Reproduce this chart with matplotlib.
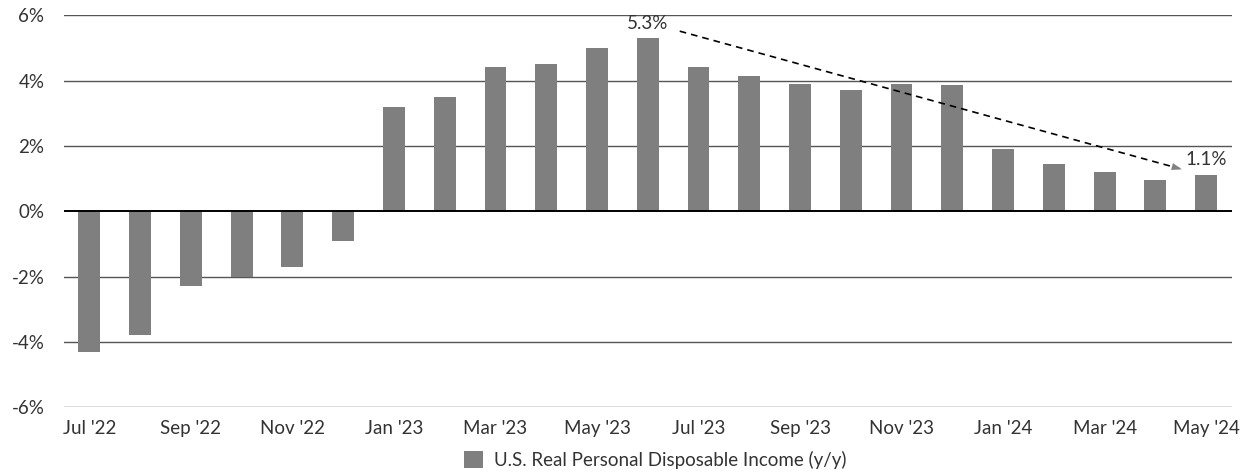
import matplotlib.pyplot as plt
import numpy as np

plt.rcParams['font.family'] = ['Lato', 'DejaVu Sans']

# datos
months = ["Jul '22", "Aug '22", "Sep '22", "Oct '22", "Nov '22", "Dec '22",
          "Jan '23", "Feb '23", "Mar '23", "Apr '23", "May '23", "Jun '23",
          "Jul '23", "Aug '23", "Sep '23", "Oct '23", "Nov '23", "Dec '23",
          "Jan '24", "Feb '24", "Mar '24", "Apr '24", "May '24"]
income = [-4.3, -3.8, -2.3, -2.0, -1.7, -0.9,
          3.2, 3.5, 4.4, 4.5, 5.0, 5.3,
          4.4, 4.15, 3.9, 3.7, 3.9, 3.85,
          1.9, 1.45, 1.2, 0.95, 1.1]
yticks = [-6, -4, -2, 0, 2, 4, 6]
serie = "U.S. Real Personal Disposable Income (y/y)"

x = np.arange(len(months))
pico = int(np.argmax(income))
ultimo = len(income) - 1

fig = plt.figure(figsize=(12.44, 4.74), dpi=100)
ax = fig.add_axes([0.0514, 0.141, 0.9386, 0.827])

for t in yticks:
    if t == 0:
        ax.axhline(t, color='black', lw=1.4, zorder=3)
    else:
        ax.axhline(t, color='#555555', lw=1.0, zorder=0)

ax.bar(x, income, width=0.43, color='#7f7f7f', label=serie, zorder=2)

ax.set_xlim(-0.5, len(months) - 0.5)
ax.set_ylim(-6, 6)
ax.set_yticks(yticks)
ax.set_yticklabels([f"{t}%" for t in yticks])
ax.set_xticks(x[::2])
ax.set_xticklabels(months[::2])
ax.tick_params(length=0, labelsize=13.5, colors='#333333')
ax.tick_params(axis='y', pad=14)
ax.tick_params(axis='x', pad=9)
for s in ax.spines.values():
    s.set_visible(False)

# linea de tendencia punteada del pico al ultimo dato
x0, y0 = pico + 0.63, income[pico] + 0.21
x1, y1 = ultimo - 0.43, income[ultimo] + 0.16
ax.plot([x0, x1 - 0.1], [y0, y1 + 0.045], ls=(0, (4, 3)), color='black', lw=1.2, zorder=4)
ax.annotate('', xy=(x1, y1), xytext=(x1 - 0.3, y1 + 0.13),
            arrowprops=dict(arrowstyle='-|>,head_length=0.7,head_width=0.25',
                            color='#808080', lw=0.1), zorder=5)
ax.text(pico, income[pico] + 0.43, f"{income[pico]}%", ha='center', va='center',
        fontsize=13.5, color='#333333')
ax.text(ultimo - 0.4, income[ultimo] + 0.47, f"{income[ultimo]}%", ha='left', va='center',
        fontsize=13.5, color='#333333')

fig.legend(loc='center', bbox_to_anchor=(0.527, 0.03), frameon=False, fontsize=13.5,
           handlelength=1.0, handleheight=1.0, handletextpad=0.6, labelcolor='#333333')

fig.savefig("out.png", dpi=100)
